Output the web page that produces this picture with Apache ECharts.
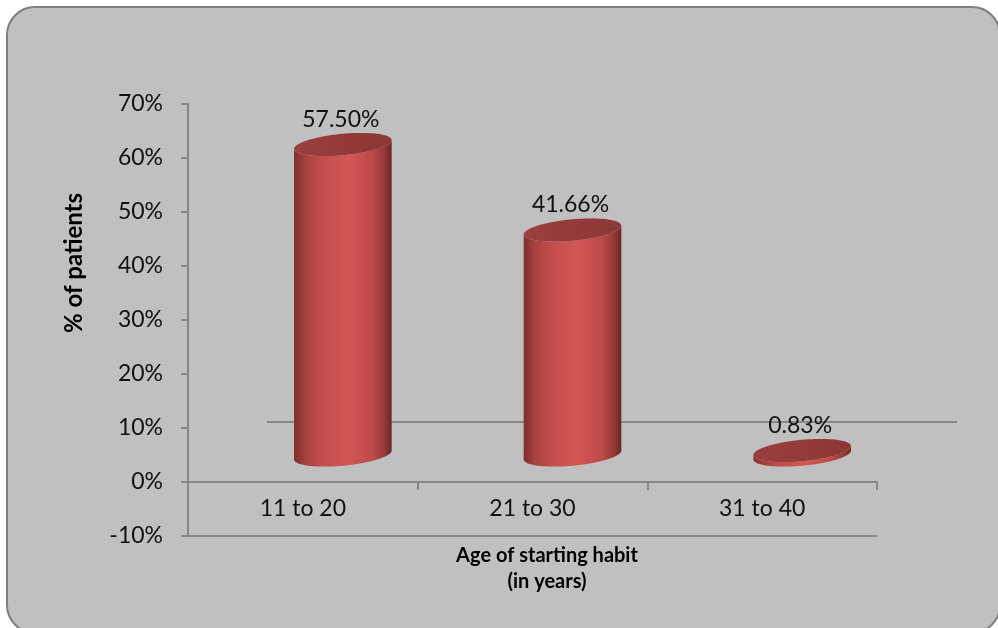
<!DOCTYPE html>
<html>
<head>
<meta charset="utf-8">
<title>Age of starting habit</title>
<script src="https://cdn.jsdelivr.net/npm/echarts@6/dist/echarts.min.js"></script>
<style>
  html, body { margin: 0; padding: 0; background: #ffffff; }
  #chart { width: 998px; height: 628px; }
</style>
</head>
<body>
<div id="chart"></div>
<script>
// Age groups at which the habit started and share of patients (%)
const categories = ['11 to 20', '21 to 30', '31 to 40'];
const percentPatients = [57.50, 41.66, 0.83];
const yTicks = { min: -10, max: 70, step: 10 };

const FONT = 'Lato, "Open Sans", sans-serif';
const AXIS_GREY = '#878787';

const GRID = { left: 188, right: 121, top: 104, bottom: 92 };
const PLOT_H = 628 - GRID.top - GRID.bottom;
// the category axis runs along the 0% level, above the lower frame line
const zeroOffset = -(0 - yTicks.min) / (yTicks.max - yTicks.min) * PLOT_H;

// Cylinders sit half-way into the floor; the back edge of the floor is twice that.
const DEPTH_X = 40, DEPTH_Y = -27;
const SHEAR = 0.09;

function cylinder(params, api) {
  const cat = api.value(0);
  const val = api.value(1);
  const base = api.coord([cat, 0]);
  const top = api.coord([cat, val]);
  const w = api.size([1, 0])[0] * 0.425;
  const a = w / 2;
  const b = w * 0.11;
  const cx = base[0] + DEPTH_X;
  const yb = base[1] + DEPTH_Y;
  const yt = top[1] + DEPTH_Y;

  const pt = (cy, t) => {
    const dx = a * Math.cos(t);
    return [cx + dx, cy + b * Math.sin(t) - SHEAR * dx];
  };
  const N = 48;
  // outline of the side: left edge, front of base, right edge, front of top
  const side = [];
  for (let i = 0; i <= N; i++) side.push(pt(yb, Math.PI - Math.PI * i / N));
  for (let i = 0; i <= N; i++) side.push(pt(yt, Math.PI * i / N));
  const cap = [];
  for (let i = 0; i < N * 2; i++) cap.push(pt(yt, Math.PI * 2 * i / (N * 2)));

  const sideFill = {
    type: 'linear', x: 0, y: 0, x2: 1, y2: 0,
    colorStops: [
      { offset: 0, color: '#7e2e2d' },
      { offset: 0.12, color: '#a84240' },
      { offset: 0.3, color: '#c44e4c' },
      { offset: 0.55, color: '#d25755' },
      { offset: 0.8, color: '#bd4a48' },
      { offset: 0.93, color: '#943938' },
      { offset: 1, color: '#6a2524' }
    ]
  };
  const capFill = {
    type: 'linear', x: 0, y: 0, x2: 1, y2: 0,
    colorStops: [
      { offset: 0, color: '#9a3f3e' },
      { offset: 1, color: '#8c3636' }
    ]
  };

  return {
    type: 'group',
    children: [
      { type: 'polygon', shape: { points: side }, style: { fill: sideFill } },
      { type: 'polygon', shape: { points: cap }, style: { fill: capFill } },
      {
        type: 'text',
        style: {
          text: val.toFixed(2) + '%',
          x: cx - 2, y: yt - 25,
          align: 'center', verticalAlign: 'middle',
          font: '23px ' + FONT, fill: '#111111'
        }
      }
    ]
  };
}

// back edge of the floor, shifted by the full depth
function floorEdge(params, api) {
  const cs = params.coordSys;
  const y0 = api.coord([0, 0])[1];
  return {
    type: 'line',
    shape: {
      x1: cs.x + DEPTH_X * 2 - 1, y1: y0 + DEPTH_Y * 2 - 6,
      x2: cs.x + cs.width + DEPTH_X * 2, y2: y0 + DEPTH_Y * 2 - 6
    },
    style: { stroke: AXIS_GREY, lineWidth: 2 }
  };
}

const chart = echarts.init(document.getElementById('chart'), null, { renderer: 'canvas' });

chart.setOption({
  backgroundColor: '#ffffff',
  animation: false,
  graphic: [
    {
      type: 'rect', z: -10,
      shape: { x: 7, y: 7, width: 993, height: 626, r: 28 },
      style: { fill: '#c0c0c0', stroke: '#7f7f7f', lineWidth: 2 }
    },
    {
      type: 'text', x: 74, y: 263, rotation: Math.PI / 2,
      style: {
        text: '% of patients', font: 'bold 24px ' + FONT,
        align: 'center', verticalAlign: 'middle', fill: '#000000'
      }
    },
    {
      type: 'text', x: 547, y: 569,
      style: {
        text: 'Age of starting habit\n(in years)', font: 'bold 20px ' + FONT,
        align: 'center', verticalAlign: 'middle', lineHeight: 26, fill: '#000000'
      }
    }
  ],
  grid: { left: GRID.left, right: GRID.right, top: GRID.top, bottom: GRID.bottom, containLabel: false },
  xAxis: [
    {
      type: 'category',
      data: categories,
      boundaryGap: true,
      position: 'bottom',
      offset: zeroOffset,
      axisLine: { onZero: false, lineStyle: { color: AXIS_GREY, width: 2 } },
      axisTick: { show: true, length: 8, lineStyle: { color: AXIS_GREY, width: 2 } },
      axisLabel: { margin: 15, color: '#111111', fontSize: 23, fontFamily: FONT }
    },
    {
      type: 'category',
      data: categories,
      position: 'bottom',
      axisLine: { onZero: false, lineStyle: { color: AXIS_GREY, width: 2 } },
      axisTick: { show: false },
      axisLabel: { show: false }
    }
  ],
  yAxis: {
    type: 'value',
    min: yTicks.min,
    max: yTicks.max,
    interval: yTicks.step,
    splitLine: { show: false },
    axisLine: { show: true, lineStyle: { color: AXIS_GREY, width: 2 } },
    axisTick: { show: true, length: 7, lineStyle: { color: AXIS_GREY, width: 2 } },
    axisLabel: {
      formatter: '{value}%', margin: 25,
      color: '#111111', fontSize: 23, fontFamily: FONT
    }
  },
  series: [
    {
      type: 'custom',
      renderItem: floorEdge,
      data: [[0, 0]],
      silent: true,
      z: 1
    },
    {
      type: 'custom',
      renderItem: cylinder,
      data: categories.map((c, i) => [i, percentPatients[i]]),
      encode: { x: 0, y: 1 },
      z: 2
    }
  ]
});
</script>
</body>
</html>
